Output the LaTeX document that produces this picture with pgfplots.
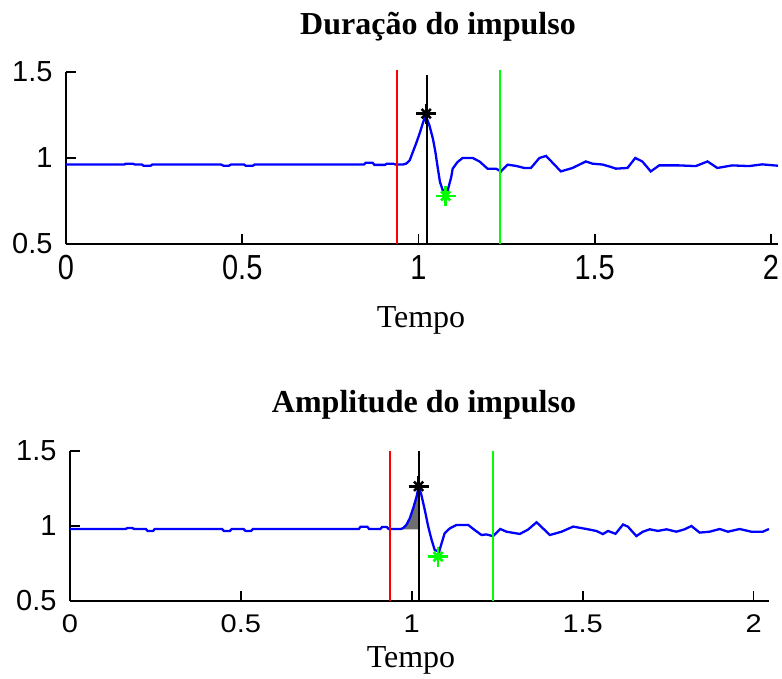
\documentclass[border=0pt]{standalone}
\usepackage{fontspec}
\setmainfont{Liberation Serif}
\newfontfamily\ticksfont{Liberation Sans}
\usepackage{pgfplots}
\pgfplotsset{compat=1.18}
\definecolor{mblue}{rgb}{0,0,1}
\definecolor{mred}{rgb}{1,0,0}
\definecolor{mgreen}{rgb}{0,1,0}
\definecolor{mgray}{RGB}{110,110,110}
\pgfplotsset{
  mystyle/.style={
    scale only axis,
    axis lines=left,
    axis line style={-, line width=1.6pt, black},
    tick style={line width=1.6pt, black},
    major tick length=10pt,
    tick align=inside,
    enlargelimits=false,
    clip=false,
    ymin=0.5, ymax=1.5,
    xtick={0,0.5,1,1.5,2},
    ytick={0.5,1,1.5},
    yticklabels={0.5,1,1.5},
    /pgf/number format/assume math mode=true,
    yticklabel style={font=\ticksfont\fontsize{29}{29}\selectfont, xshift=-10pt},
  },
  sig/.style={mblue, line width=2.3pt},
  vred/.style={mred, line width=1.9pt},
  vblack/.style={black, line width=1.9pt},
  vgreen/.style={mgreen, line width=1.9pt},
  starp/.style={only marks, mark=+, mark size=10pt, line width=2.6pt},
  starx/.style={only marks, mark=x, mark size=6.5pt, line width=2.6pt},
}
\begin{document}
\begin{tikzpicture}[x=1pt,y=1pt]
\useasboundingbox (0,0) rectangle (782,-679);
% ---------------- top ----------------
\begin{axis}[mystyle,
  at={(66pt,-244pt)}, anchor=south west,
  width=712pt, height=172pt,
  xmin=0, xmax=2.02,
  xticklabels={\scalebox{1}[1.2]{0},\scalebox{1}[1.2]{0.5},\scalebox{1}[1.2]{1},\scalebox{1}[1.2]{1.5},\scalebox{1}[1.2]{2}},
  xticklabel style={font=\ticksfont\fontsize{29}{29}\selectfont, yshift=-8pt},
]
\addplot[sig] coordinates {
(0,0.962) (0.165,0.962) (0.17,0.967) (0.19,0.967) (0.195,0.962) (0.215,0.962)
(0.22,0.955) (0.24,0.955) (0.245,0.962) (0.44,0.962) (0.447,0.955) (0.462,0.955)
(0.468,0.962) (0.505,0.962) (0.51,0.955) (0.53,0.955) (0.535,0.962) (0.845,0.962)
(0.85,0.972) (0.87,0.972) (0.875,0.96) (0.905,0.96) (0.91,0.967) (0.928,0.967)
(0.935,0.962) (0.955,0.962) (0.965,0.967) (0.975,0.986) (0.984,1.035) (0.993,1.083)
(1.003,1.141) (1.012,1.2) (1.02,1.25) (1.031,1.19) (1.041,1.112) (1.048,1.035)
(1.055,0.938) (1.061,0.86) (1.069,0.812) (1.083,0.812) (1.093,0.89) (1.097,0.938)
(1.111,0.977) (1.125,1.0) (1.154,1.0) (1.173,0.98) (1.196,0.938) (1.22,0.938)
(1.234,0.922) (1.253,0.961) (1.277,0.954) (1.30,0.942) (1.319,0.942) (1.343,1.0)
(1.362,1.012) (1.404,0.922) (1.437,0.942) (1.475,0.98) (1.494,0.967) (1.522,0.962)
(1.546,0.948) (1.56,0.938) (1.593,0.942) (1.615,1.0) (1.635,0.98) (1.659,0.922)
(1.683,0.957) (1.739,0.957) (1.787,0.953) (1.82,0.98) (1.848,0.942) (1.89,0.957)
(1.938,0.953) (1.975,0.963) (2.02,0.955)
};
\addplot[vred] coordinates {(0.938,0.5) (0.938,1.51)};
\addplot[vblack] coordinates {(1.025,0.5) (1.025,1.48)};
\addplot[vgreen] coordinates {(1.232,0.5) (1.232,1.51)};
\addplot[starp, black] coordinates {(1.022,1.258)};
\addplot[starx, black] coordinates {(1.022,1.258)};
\addplot[starp, mgreen] coordinates {(1.077,0.78)};
\addplot[starx, mgreen] coordinates {(1.077,0.78)};
\end{axis}
% ---------------- bottom ----------------
\begin{axis}[mystyle,
  at={(70pt,-601pt)}, anchor=south west,
  width=699pt, height=150pt,
  xmin=0, xmax=2.045,
  xticklabels={\scalebox{1}[0.88]{0},\scalebox{1}[0.88]{0.5},\scalebox{1}[0.88]{1},\scalebox{1}[0.88]{1.5},\scalebox{1}[0.88]{2}},
  xticklabel style={font=\ticksfont\fontsize{29}{29}\selectfont, yshift=-10pt},
]
\addplot[fill=mgray, draw=none] coordinates {
(0.972,0.978) (0.975,0.987) (0.984,1.007) (0.994,1.051) (1.004,1.118) (1.014,1.196)
(1.02,1.262) (1.02,0.978)} -- cycle;
\addplot[sig] coordinates {
(0,0.98) (0.163,0.98) (0.168,0.987) (0.182,0.987) (0.188,0.98) (0.222,0.98)
(0.227,0.967) (0.243,0.967) (0.248,0.98) (0.445,0.98) (0.45,0.967) (0.468,0.967)
(0.473,0.98) (0.508,0.98) (0.513,0.967) (0.53,0.967) (0.535,0.98) (0.845,0.98)
(0.85,0.995) (0.87,0.995) (0.875,0.98) (0.908,0.98) (0.913,0.993) (0.927,0.993)
(0.932,0.98) (0.968,0.98) (0.975,0.987) (0.984,1.007) (0.994,1.051) (1.004,1.118)
(1.014,1.196) (1.02,1.262) (1.028,1.207) (1.038,1.107) (1.048,0.996) (1.058,0.907)
(1.067,0.84) (1.08,0.829) (1.087,0.884) (1.096,0.951) (1.111,0.984) (1.131,1.007)
(1.165,1.007) (1.184,0.973) (1.204,0.94) (1.218,0.944) (1.238,0.932) (1.259,0.98)
(1.277,0.962) (1.316,0.947) (1.34,0.976) (1.365,1.025) (1.404,0.94) (1.438,0.962)
(1.472,0.996) (1.511,0.98) (1.54,0.967) (1.559,0.946) (1.574,0.967) (1.596,0.948)
(1.618,1.01) (1.632,0.996) (1.657,0.933) (1.676,0.962) (1.696,0.978) (1.72,0.967)
(1.745,0.978) (1.774,0.962) (1.798,0.978) (1.818,1.0) (1.842,0.956) (1.871,0.962)
(1.901,0.98) (1.925,0.962) (1.959,0.98) (1.993,0.962) (2.027,0.962) (2.045,0.98)
};
\addplot[vred] coordinates {(0.936,0.5) (0.936,1.5)};
\addplot[vblack] coordinates {(1.02,0.5) (1.02,1.5)};
\addplot[vgreen] coordinates {(1.237,0.5) (1.237,1.5)};
\addplot[starp, black] coordinates {(1.02,1.265)};
\addplot[starx, black] coordinates {(1.02,1.265)};
\addplot[starp, mgreen] coordinates {(1.077,0.796)};
\addplot[starx, mgreen] coordinates {(1.077,0.796)};
\end{axis}
% titles and labels
\node[font=\bfseries\fontsize{32}{32}\selectfont] at (438,-27) {Duração do impulso};
\node[font=\fontsize{32}{32}\selectfont] at (421,-320) {Tempo};
\node[font=\bfseries\fontsize{32}{32}\selectfont] at (424,-405) {Amplitude do impulso};
\node[font=\fontsize{32}{32}\selectfont] at (411,-660) {Tempo};
\end{tikzpicture}
\end{document}
